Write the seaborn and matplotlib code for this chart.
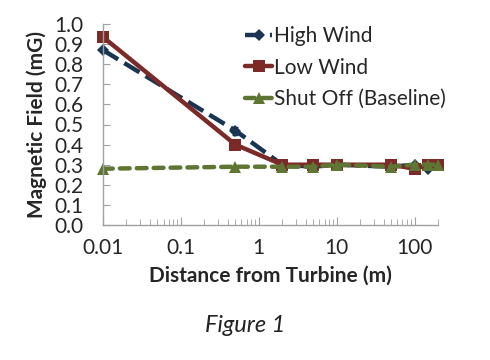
import matplotlib
matplotlib.use("Agg")
import matplotlib.pyplot as plt
import seaborn as sns
import pandas as pd
import numpy as np
from matplotlib.ticker import LogLocator, FixedLocator, NullFormatter, FixedFormatter

distance = [0.01, 0.5, 2, 5, 10, 50, 100, 150, 200]
high_wind = [0.87, 0.47, 0.30, 0.29, 0.30, 0.29, 0.30, 0.28, 0.30]
low_wind = [0.935, 0.40, 0.30, 0.30, 0.30, 0.30, 0.28, 0.30, 0.30]
shut_off = [0.28, 0.29, 0.29, 0.29, 0.30, 0.29, 0.30, 0.30, 0.30]
series_names = ["High Wind", "Low Wind", "Shut Off (Baseline)"]
x_ticks = [0.01, 0.1, 1, 10, 100]
x_tick_labels = ["0.01", "0.1", "1", "10", "100"]
y_ticks = [0.0, 0.1, 0.2, 0.3, 0.4, 0.5, 0.6, 0.7, 0.8, 0.9, 1.0]

sns.set_style("white")
plt.rcParams['font.family'] = ['Lato', 'DejaVu Sans']

df = pd.DataFrame({
    "distance": distance * 3,
    "value": high_wind + low_wind + shut_off,
    "series": [series_names[0]] * len(distance) + [series_names[1]] * len(distance) + [series_names[2]] * len(distance),
})

fig = plt.figure(figsize=(4.9, 3.6), dpi=100)
ax = fig.add_axes([103 / 490, 1 - 225 / 360, (438 - 103) / 490, (225 - 24) / 360])

styles = {
    "High Wind": dict(color="#1a3553", marker="D", ms=6, lw=3.2, dashes=(4, 1.6)),
    "Low Wind": dict(color="#7b2a28", marker="s", ms=9, lw=3.2, dashes=None),
    "Shut Off (Baseline)": dict(color="#5f7533", marker="^", ms=8, lw=3.2, dashes=(2.2, 1.6)),
}
for name in series_names:
    st = styles[name]
    sub = df[df["series"] == name]
    kw = dict(x="distance", y="value", data=sub, ax=ax, color=st["color"], marker=st["marker"],
              markersize=st["ms"], linewidth=st["lw"], markeredgewidth=0, label=name, errorbar=None)
    line = sns.lineplot(**kw).get_lines()[-1]
    line.set_clip_on(False)
    if st["dashes"] is not None:
        line.set_dashes(st["dashes"])
        line.set_dash_capstyle("round" if name.startswith("Shut") else "butt")

# small error bar on High Wind at 0.5 m
ax.errorbar([distance[1]], [high_wind[1]], yerr=[0.02], fmt="none", ecolor="#1a3553", elinewidth=1, capsize=2, zorder=1)

ax.set_xscale("log")
ax.set_xlim(0.01, 200)
ax.set_ylim(0, 1.0)
ax.xaxis.set_major_locator(FixedLocator(x_ticks))
ax.xaxis.set_major_formatter(FixedFormatter(x_tick_labels))
ax.xaxis.set_minor_locator(LogLocator(base=10, subs=np.arange(2, 10)))
ax.xaxis.set_minor_formatter(NullFormatter())
ax.set_yticks(y_ticks)
ax.set_yticklabels([f"{v:.1f}" for v in y_ticks])

for s in ["top", "right"]:
    ax.spines[s].set_visible(False)
for s in ["left", "bottom"]:
    ax.spines[s].set_color("#a0a0a0")
    ax.spines[s].set_linewidth(1)
ax.tick_params(axis="x", which="major", direction="in", length=6, color="#a0a0a0", labelsize=15, pad=9, bottom=True)
ax.tick_params(axis="x", which="minor", direction="in", length=4, color="#a0a0a0", bottom=True)
ax.tick_params(axis="y", which="major", direction="in", length=5, color="#a0a0a0", labelsize=15, pad=14, left=True)

ax.set_xlabel("Distance from Turbine (m)", fontsize=15, fontweight="bold", labelpad=6)
ax.set_ylabel("Magnetic Field (mG)", fontsize=15, fontweight="bold", labelpad=5)

leg = ax.legend(loc="upper left", bbox_to_anchor=(0.40, 1.03), frameon=False, fontsize=15,
                handlelength=1.3, handletextpad=0.1, labelspacing=0.55, borderaxespad=0)

fig.text(0.5, 1 - 325 / 360, "Figure 1", ha="center", va="center", fontsize=17, style="italic", color="#222222")

fig.savefig("out.png", dpi=100)
